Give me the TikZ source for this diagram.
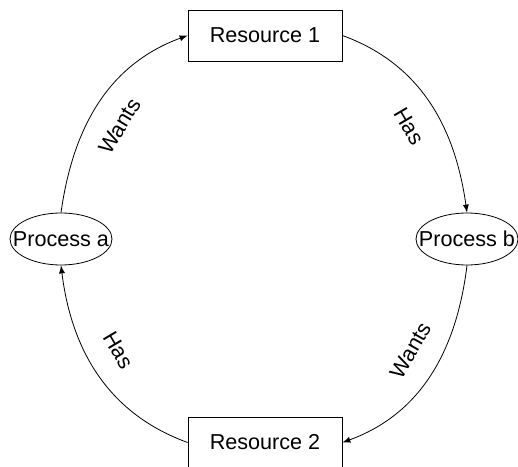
\documentclass[tikz,border=0pt]{standalone}
\usepackage{fontspec}
\setmainfont{Liberation Sans}
\usetikzlibrary{shapes.geometric,arrows}
\tikzstyle{resource} = [rectangle, draw=black, thin, minimum width=77pt, minimum height=25.5pt, text centered]
\tikzstyle{process} = [ellipse, draw=black, thin, minimum width=51pt, minimum height=26pt, inner sep=0pt]
\tikzstyle{arrow} = [thin,->,>=latex]
\tikzstyle{edgelabel} = [sloped, inner sep=11pt]

\begin{document}
\begin{tikzpicture}[x=0.5pt, y=0.5pt, font=\fontsize{10.8}{13}\selectfont]
    \useasboundingbox (0,0) rectangle (518,466);

    \node (resourceone) [resource] at (265,430.5) {Resource 1};
    \node (resourcetwo) [resource] at (265,23.5) {Resource 2};
    \node (processa) [process] at (61,227) {\makebox[0pt]{Process a}};
    \node (processb) [process] at (467,227) {\makebox[0pt]{Process b}};

    \draw [arrow] (processa.north) to[out=82, in=200] node [edgelabel, pos=0.46, below] {Wants} (resourceone.west);
    \draw [arrow] (resourceone.east) to[out=-20, in=98] node [edgelabel, pos=0.54, below] {Has} (processb.north);
    \draw [arrow] (processb.south) to[out=263, in=20] node [edgelabel, pos=0.45, above] {Wants} (resourcetwo.east);
    \draw [arrow] (resourcetwo.west) to[out=160, in=277] node [edgelabel, pos=0.55, above] {Has} (processa.south);
  \end{tikzpicture}
\end{document}
